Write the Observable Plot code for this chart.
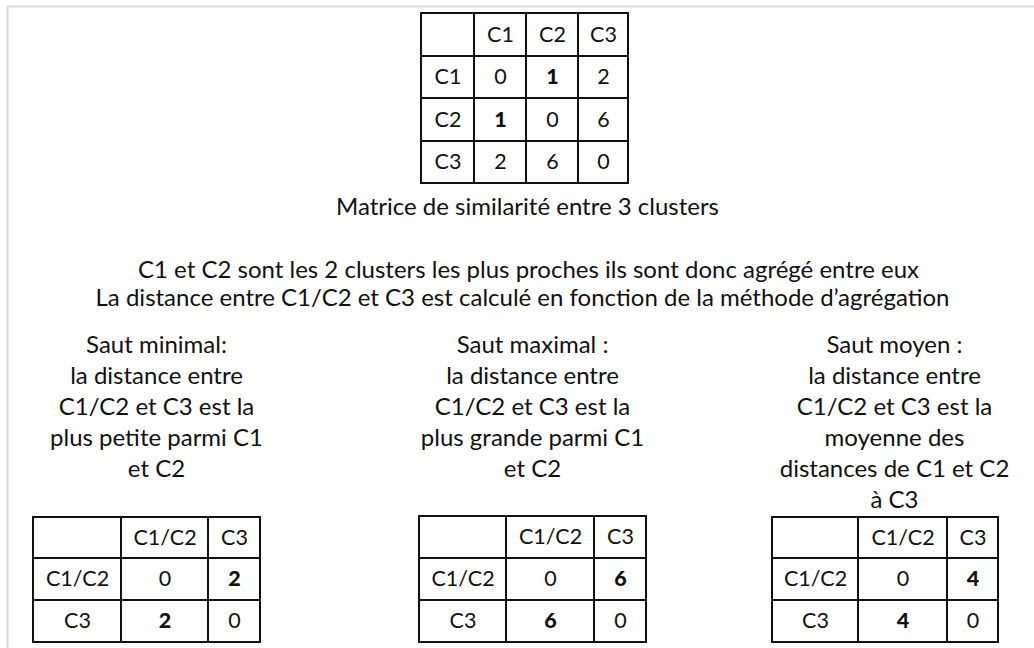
<!DOCTYPE html>
<html>
<head>
<meta charset="utf-8">
<script src="https://cdn.jsdelivr.net/npm/d3@7"></script>
<script src="https://cdn.jsdelivr.net/npm/@observablehq/plot@0.6"></script>
<style>
  html, body { margin: 0; padding: 0; background: #fff; }
  #chart svg { display: block; }
</style>
</head>
<body>
<div id="chart"></div>
<script>
// ---------- data ----------
const clusters = ["C1", "C2", "C3"];
const similarity = [
  [0, 1, 2],
  [1, 0, 6],
  [2, 6, 0]
];
const simBold = [[0, 1], [1, 0]];
const matrixCaption = "Matrice de similarité entre 3 clusters";
const introLines = [
  "C1 et C2 sont les 2 clusters les plus proches ils sont donc agrégé entre eux",
  "La distance entre C1/C2 et C3 est calculé en fonction de la méthode d\u2019agrégation"
];
const mergedLabels = ["C1/C2", "C3"];
const methodNames = ["Saut minimal", "Saut maximal", "Saut moyen"];
const methodTexts = [
  ["Saut minimal:", "la distance entre", "C1/C2 et C3 est la", "plus petite parmi C1", "et C2"],
  ["Saut maximal :", "la distance entre", "C1/C2 et C3 est la", "plus grande parmi C1", "et C2"],
  ["Saut moyen :", "la distance entre", "C1/C2 et C3 est la", "moyenne des", "distances de C1 et C2", "à C3"]
];
const methodDistances = [2, 6, 4];

// ---------- layout (positions, not data) ----------
const W = 1034, H = 648;
const FONT = "Lato, 'Noto Sans', sans-serif";
const FS_TEXT = 24;
const FS_CELL = 21.5;
const topTable = {x: [421, 474, 526, 578, 628], y: [13, 56, 98, 141, 183]};
const bottomTables = [
  {x: [33, 121, 208, 260], y: [517, 558, 600, 642]},
  {x: [419, 506, 594, 646], y: [516, 558, 600, 642]},
  {x: [772, 858, 947, 998], y: [517, 558, 600, 642]}
];
const methodCenters = [156, 532, 894];
const methodBaseline0 = 352, methodLineGap = 31;

// ---------- build cells ----------
function buildTable(t, rowLabels, colLabels, values, boldSet) {
  const cells = [];
  const nr = rowLabels.length + 1, nc = colLabels.length + 1;
  for (let r = 0; r < nr; r++) {
    for (let c = 0; c < nc; c++) {
      let label = "", bold = false;
      if (r === 0 && c > 0) label = colLabels[c - 1];
      else if (c === 0 && r > 0) label = rowLabels[r - 1];
      else if (r > 0 && c > 0) {
        label = String(values[r - 1][c - 1]);
        bold = boldSet.some(([i, j]) => i === r - 1 && j === c - 1);
      }
      cells.push({x1: t.x[c], x2: t.x[c + 1], y1: t.y[r], y2: t.y[r + 1], label, bold});
    }
  }
  return cells;
}

let cells = buildTable(topTable, clusters, clusters, similarity, simBold);
methodDistances.forEach((d, k) => {
  const vals = [[0, d], [d, 0]];
  cells = cells.concat(buildTable(bottomTables[k], mergedLabels, mergedLabels, vals, [[0, 1], [1, 0]]));
});

const paraLines = [];
paraLines.push({x: 527, y: 214, text: matrixCaption});
introLines.forEach((t, i) => paraLines.push({x: [528, 522][i], y: 277 + i * 28, text: t}));
methodTexts.forEach((lines, k) => lines.forEach((t, i) =>
  paraLines.push({x: methodCenters[k], y: methodBaseline0 + i * methodLineGap, text: t})));

const frame = [{x1: 7, x2: W, y1: 6, y2: 6}, {x1: 7, x2: 7, y1: 6, y2: H}];

const chart = Plot.plot({
  width: W, height: H,
  margin: 0,
  x: {domain: [0, W], axis: null},
  y: {domain: [0, H], axis: null, reverse: true},
  style: {fontFamily: FONT, background: "#fff"},
  marks: [
    Plot.link(frame, {x1: "x1", x2: "x2", y1: "y1", y2: "y2", stroke: "#d9d9d9", strokeWidth: 2}),
    Plot.rect(cells, {x1: "x1", x2: "x2", y1: "y1", y2: "y2", fill: "white", stroke: "#111", strokeWidth: 2}),
    Plot.text(cells.filter(d => !d.bold), {
      x: d => (d.x1 + d.x2) / 2, y: d => (d.y1 + d.y2) / 2,
      text: "label", fontSize: FS_CELL, fill: "#111", lineAnchor: "middle"
    }),
    Plot.text(cells.filter(d => d.bold), {
      x: d => (d.x1 + d.x2) / 2, y: d => (d.y1 + d.y2) / 2,
      text: "label", fontSize: FS_CELL, fill: "#111", fontWeight: 900, lineAnchor: "middle"
    }),
    Plot.text(paraLines, {
      x: "x", y: "y", text: "text", fontSize: FS_TEXT, fill: "#111", lineAnchor: "bottom"
    })
  ]
});
document.getElementById("chart").appendChild(chart);
</script>
</body>
</html>
